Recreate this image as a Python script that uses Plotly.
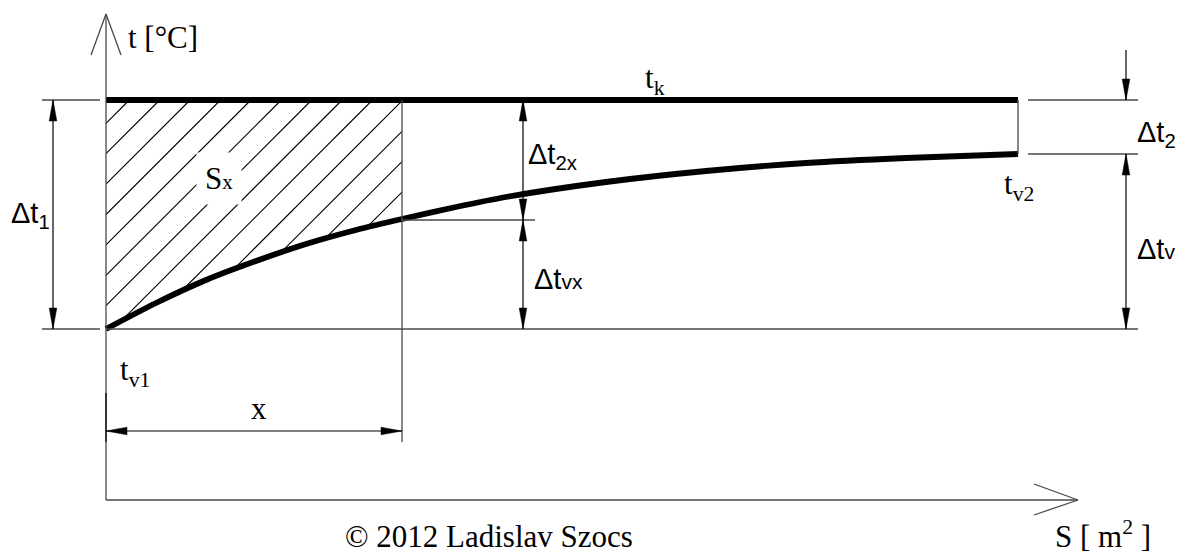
import numpy as np
import plotly.graph_objects as go

W, H = 1187, 554
BODY = 8  # default page margin of the html body

# ---- diagram data (diagram units, S to the right, t measured downward on screen) ----
# cooling-medium temperature t_v along the exchanger surface S
S_curve = [106, 156, 206, 256, 306, 356, 402, 456, 506, 606, 706, 806, 906, 1018]
tv_curve = [329, 303, 280, 261, 244, 230, 219, 207, 197, 182, 171, 163, 158, 154]

# condensing temperature t_k (constant)
S_k = [106, 1018]
tk_line = [100, 100]

S_start = 106     # S = 0
S_end = 1018      # end of exchanger
S_x = 402         # position x
t_k = 100
t_v1 = 329
t_v2 = 154
t_vx = 219
axis_y = 500      # S axis level
axis_top = 14     # tip of t axis
axis_right = 1078 # tip of S axis

# hatch of area S_x
hatch_c0 = 229.3
hatch_step = 30.4
hatch_n = 13

THIN = "#4a4a4a"
SERIF = "Liberation Serif"
SANS = "Liberation Sans"

fig = go.Figure()

# ---- hatch lines ----
dense = np.linspace(S_start, S_x, 800)
ycur = np.interp(dense, S_curve, tv_curve)
g = dense + ycur
hx, hy = [], []
for k in range(hatch_n):
    c = hatch_c0 + k * hatch_step
    if c - t_k <= S_x:
        p1 = (c - t_k, t_k)
    else:
        p1 = (S_x, c - S_x)
    if c <= S_start + t_v1:
        p2 = (S_start, c - S_start)
    else:
        xs = float(np.interp(c, g, dense))
        p2 = (xs, c - xs)
    hx += [p1[0], p2[0], None]
    hy += [p1[1], p2[1], None]
fig.add_trace(go.Scatter(x=hx, y=hy, mode="lines",
                         line=dict(color="black", width=1.1), hoverinfo="skip"))

# ---- thick lines ----
fig.add_trace(go.Scatter(x=S_k, y=tk_line, mode="lines",
                         line=dict(color="black", width=5.8), hoverinfo="skip"))
fig.add_trace(go.Scatter(x=S_curve, y=tv_curve, mode="lines",
                         line=dict(color="black", width=5.8, shape="spline", smoothing=0.8),
                         hoverinfo="skip"))

shapes = []


def seg(x0, y0, x1, y1, color=THIN, width=1.3):
    shapes.append(dict(type="line", xref="x", yref="y", x0=x0, y0=y0, x1=x1, y1=y1,
                       line=dict(color=color, width=width), layer="above"))


def head(tx, ty, dx, dy, L=21, w=3.8):
    bx, by = tx - L * dx, ty - L * dy
    px, py = -dy * w, dx * w
    path = f"M{tx},{ty} L{bx + px},{by + py} L{bx - px},{by - py} Z"
    shapes.append(dict(type="path", xref="x", yref="y", path=path,
                       fillcolor="black", line=dict(color="black", width=0.5), layer="above"))


# axes
seg(S_start, axis_top, S_start, axis_y)
seg(S_start, axis_y, axis_right, axis_y)
seg(S_start - 15, axis_top + 41, S_start, axis_top)
seg(S_start + 15, axis_top + 41, S_start, axis_top)
seg(axis_right - 44, axis_y - 16, axis_right, axis_y)
seg(axis_right - 44, axis_y + 15, axis_right, axis_y)

# extension lines
seg(42, t_k, S_start - 6, t_k)
seg(42, t_v1, S_start - 6, t_v1)
seg(S_start, t_v1, 1138, t_v1)
seg(S_end + 10, t_k, 1138, t_k)
seg(S_end + 10, t_v2, 1138, t_v2)
seg(S_x, t_k, S_x, 442)
seg(S_end, t_k, S_end, t_v2)
seg(S_x, t_vx + 1, 535, t_vx + 1)
seg(S_start, 393, S_start, 442, color="#222", width=1.6)

# dimension lines
DC = "black"
# Δt1
seg(53, t_k, 53, t_v1, DC, 1.2); head(53, t_k, 0, -1); head(53, t_v1, 0, 1)
# Δt2x and Δtvx
seg(523, t_k, 523, t_vx + 1, DC, 1.2); head(523, t_k, 0, -1); head(523, t_vx + 1, 0, 1)
seg(523, t_vx + 1, 523, t_v1, DC, 1.2); head(523, t_vx + 1, 0, -1); head(523, t_v1, 0, 1)
# Δt2 (outside arrow) and Δtv
seg(1126, 50, 1126, t_k, DC, 1.2); head(1126, t_k, 0, 1)
seg(1126, t_v2, 1126, t_v1, DC, 1.2); head(1126, t_v2, 0, -1); head(1126, t_v1, 0, 1)
# x
seg(S_start, 431, S_x, 431, DC, 1.2); head(S_start, 431, -1, 0); head(S_x, 431, 1, 0)

annotations = []


def label(x, y, text, family=SERIF, size=31, xanchor="left", yanchor="middle", bg=None, pad=1):
    a = dict(x=x, y=y, xref="x", yref="y", text=text, showarrow=False,
             xanchor=xanchor, yanchor=yanchor,
             font=dict(family=family, size=size, color="black"), borderpad=pad)
    if bg:
        a["bgcolor"] = bg
    annotations.append(a)


sm = "<span style='font-size:21px'>{}</span>"
label(126, 37, "t [°C]")
label(643, 80, "t<sub>k</sub>")
label(219, 178, "S" + sm.format("x"), xanchor="center", bg="white", pad=8)
label(526, 156, "Δt<sub>2x</sub>", family=SANS, size=29)
label(532, 279, "Δt" + sm.format("vx"), family=SANS, size=29)
label(9, 215, "Δt<sub>1</sub>", family=SANS, size=29)
label(1135, 134, "Δt<sub>2</sub>", family=SANS, size=29)
label(1135, 249, "Δt" + sm.format("v"), family=SANS, size=29)
label(1002, 186, "t<sub>v2</sub>")
label(118, 372, "t<sub>v1</sub>")
label(259, 408, "x", xanchor="center")
label(343, 536, "© 2012 Ladislav Szocs")
label(1053, 534, "S [ m<sup>2</sup> ]")

fig.update_layout(
    width=W - BODY, height=H - BODY,
    margin=dict(l=0, r=0, t=0, b=0),
    paper_bgcolor="white", plot_bgcolor="white",
    showlegend=False,
    xaxis=dict(range=[BODY, W], visible=False, fixedrange=True),
    yaxis=dict(range=[H, BODY], visible=False, fixedrange=True),
    shapes=shapes,
    annotations=annotations,
)

fig.write_html("out.html")
